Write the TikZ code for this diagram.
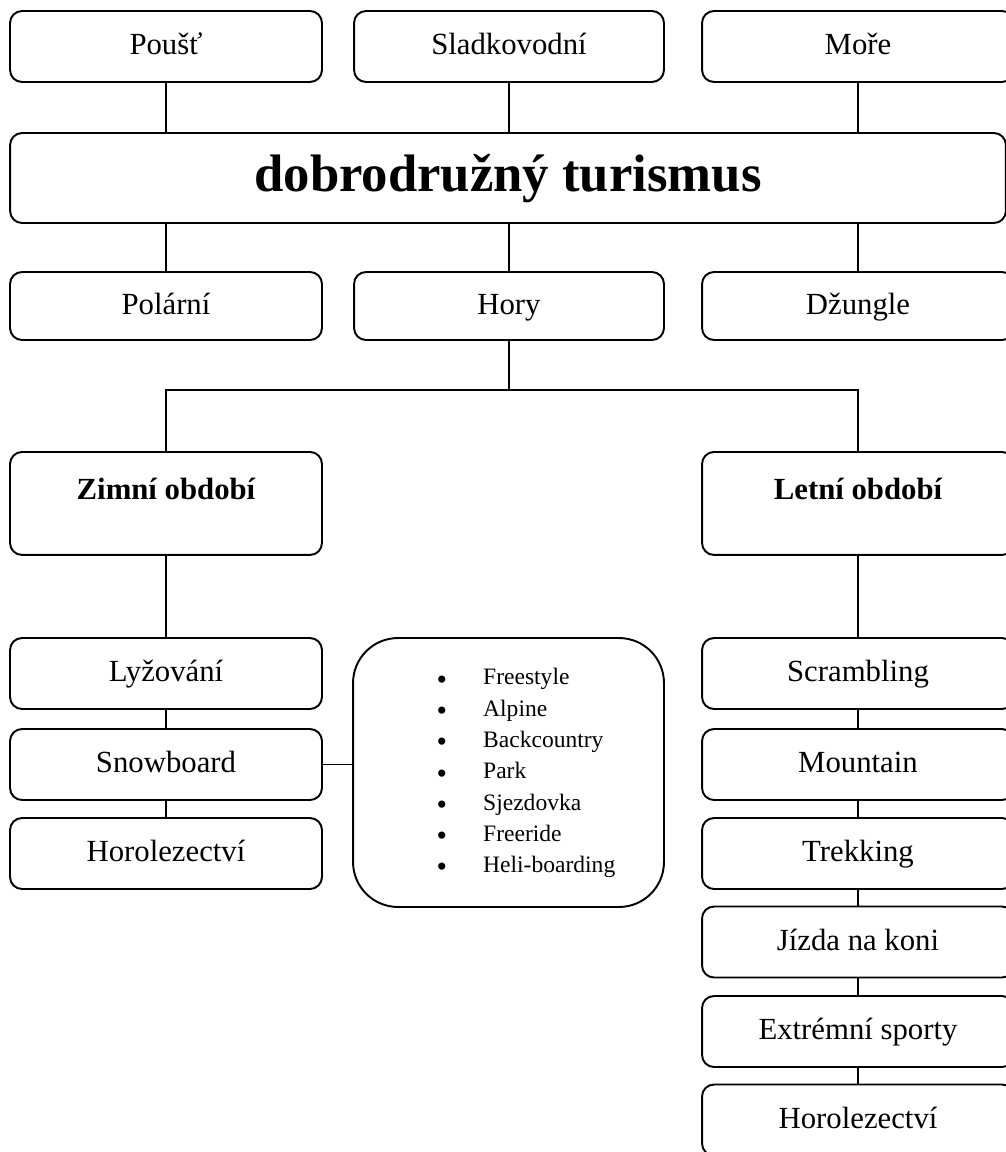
\documentclass[tikz,border=0pt]{standalone}
\usepackage{fontspec}
\setmainfont{Liberation Serif}
\newcommand{\bigdot}{\raisebox{-2.5pt}{\smash{\fontsize{17}{17.8}\selectfont\textbullet}}}
\begin{document}
\begin{tikzpicture}[x=0.02cm,y=-0.02cm,line width=1.1pt,
  box/.style={draw,rounded corners=0.24cm,minimum width=6.24cm,minimum height=1.42cm,inner sep=0pt,text height=0.44cm,text depth=0.12cm,font=\fontsize{17.5}{21}\selectfont},
  lowbox/.style={box,minimum height=1.36cm},
  seasonbox/.style={draw,rounded corners=0.24cm,minimum width=6.24cm,inner sep=0pt,text height=0.96cm,text depth=1.1cm,anchor=north,font=\fontsize{17.5}{21}\selectfont\bfseries},
  listbox/.style={draw,rounded corners=0.9cm,minimum width=6.22cm,minimum height=5.38cm,inner sep=0pt,font=\fontsize{13.4}{17.8}\selectfont}]
\useasboundingbox (0,0) rectangle (1005,1152);

% top row
\node[box] (poust) at (166,46.5) {Poušť};
\node[box,minimum width=6.2cm] (sladk) at (509,46.5) {Sladkovodní};
\node[box] (more) at (858,46.5) {Moře};

\node[draw,rounded corners=0.24cm,minimum width=19.92cm,minimum height=1.8cm,inner sep=0pt,text height=0.76cm,text depth=0.2cm,font=\fontsize{30}{36}\selectfont\bfseries] (turismus) at (508,178) {dobrodružný turismus};

% second row
\node[lowbox] (polar) at (166,306) {Polární};
\node[lowbox,minimum width=6.2cm] (hory) at (509,306) {Hory};
\node[lowbox] (dzungle) at (858,306) {Džungle};

\foreach \n in {poust,sladk,more}
  \draw (\n.south) -- (\n.south |- turismus.north);
\foreach \n in {polar,hory,dzungle}
  \draw (\n.north) -- (\n.north |- turismus.south);

% seasons
\coordinate (split) at (509,390);
\node[seasonbox] (zimni) at (166,451) {Zimní období};
\node[seasonbox] (letni) at (858,451) {Letní období};
\draw (hory.south) -- (split);
\draw (zimni.north) |- (split) -| (letni.north);

% winter
\node[box] (lyzovani) at (166,673.5) {Lyžování};
\node[box] (snowboard) at (166,764.5) {Snowboard};
\node[box] (horo1) at (166,853.5) {Horolezectví};
\draw (zimni) -- (lyzovani);
\draw (lyzovani) -- (snowboard);
\draw (snowboard) -- (horo1);

\node[listbox] (styly) at (508.5,772.5) {\hspace*{0.7cm}\begin{tabular}{@{}l@{\hspace{0.72cm}}l@{}}
\bigdot & Freestyle\\
\bigdot & Alpine\\
\bigdot & Backcountry\\
\bigdot & Park\\
\bigdot & Sjezdovka\\
\bigdot & Freeride\\
\bigdot & Heli-boarding
\end{tabular}};
\draw (snowboard.east) -- (snowboard.east -| styly.west);

% summer
\node[box] (scrambling) at (858,673.5) {Scrambling};
\node[box] (mountain) at (858,764.5) {Mountain};
\node[box] (trekking) at (858,853.5) {Trekking};
\node[box] (jizda) at (858,942) {Jízda na koni};
\node[box] (extremni) at (858,1031.5) {Extrémní sporty};
\node[box] (horo2) at (858,1120) {Horolezectví};
\draw (letni) -- (scrambling);
\draw (scrambling) -- (mountain);
\draw (mountain) -- (trekking);
\draw (trekking) -- (jizda);
\draw (jizda) -- (extremni);
\draw (extremni) -- (horo2);
\end{tikzpicture}
\end{document}
